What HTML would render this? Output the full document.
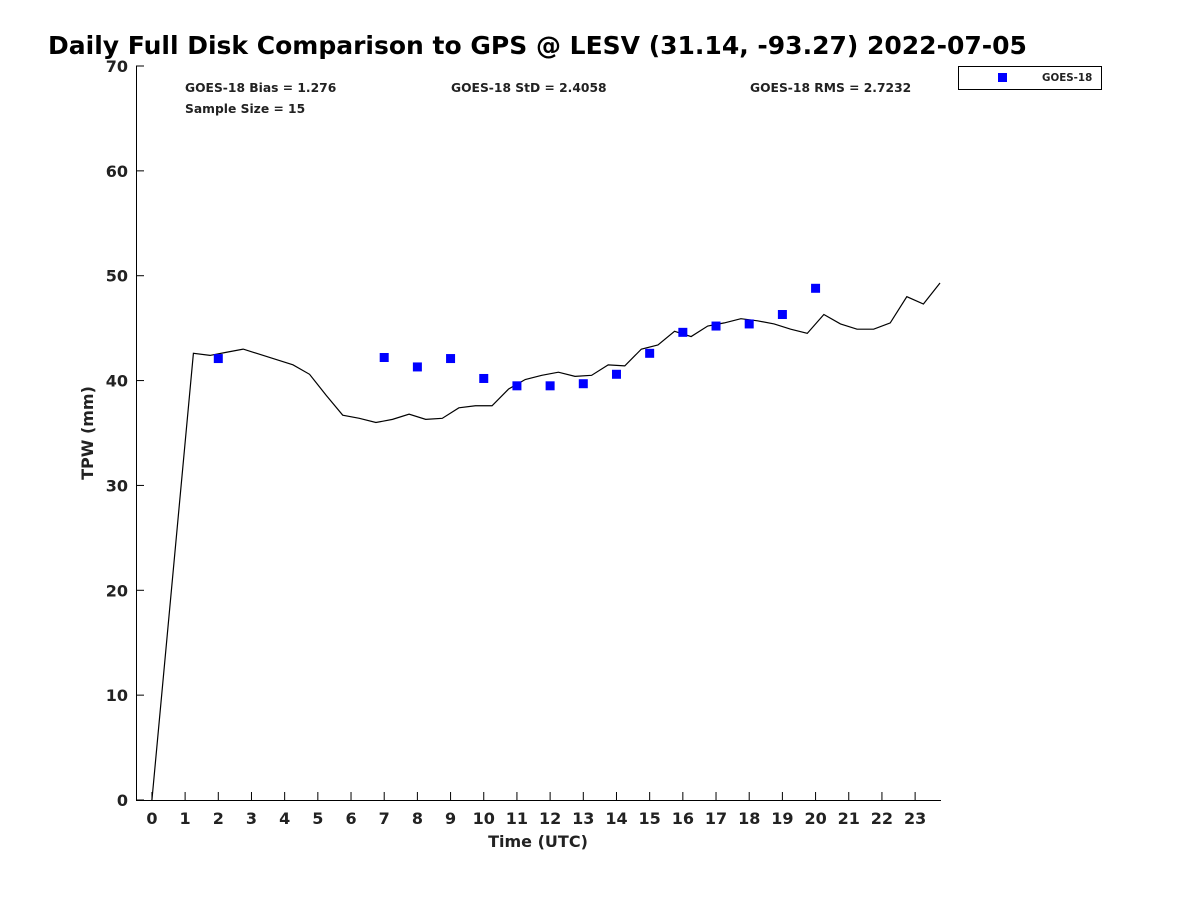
<!DOCTYPE html>
<html><head><meta charset="utf-8"><style>
body{margin:0;background:#fff;}
svg text{font-family:"DejaVu Sans","Liberation Sans",sans-serif;font-weight:bold;fill:#222;}
</style></head><body>
<svg width="1200" height="900" xmlns="http://www.w3.org/2000/svg">
<rect width="1200" height="900" fill="#fff"/>
<text x="48" y="54" font-size="25" style="fill:#000">Daily Full Disk Comparison to GPS @ LESV (31.14, -93.27) 2022-07-05</text>
<g id="axes"></g>
<g id="series"></g>
<text x="185" y="92" font-size="12.3">GOES-18 Bias = 1.276</text>
<text x="185" y="113" font-size="12.3">Sample Size = 15</text>
<text x="451" y="92" font-size="12.3">GOES-18 StD = 2.4058</text>
<text x="750" y="92" font-size="12.3">GOES-18 RMS = 2.7232</text>
<g>
<rect x="958.5" y="66.5" width="143" height="23" fill="#fff" stroke="#000" stroke-width="1"/>
<rect x="998" y="73" width="9" height="9" fill="#0000ff"/>
<text x="1042" y="81" font-size="10.3">GOES-18</text>
</g>
<text transform="translate(93,433) rotate(-90)" text-anchor="middle" font-size="16">TPW (mm)</text>
<text x="538" y="847" text-anchor="middle" font-size="16">Time (UTC)</text>
</svg>
<script>
const lineTimes=[0,1.25,1.75,2.25,2.75,3.25,3.75,4.25,4.75,5.25,5.75,6.25,6.75,7.25,7.75,8.25,8.75,9.25,9.75,10.25,10.75,11.25,11.75,12.25,12.75,13.25,13.75,14.25,14.75,15.25,15.75,16.25,16.75,17.25,17.75,18.25,18.75,19.25,19.75,20.25,20.75,21.25,21.75,22.25,22.75,23.25,23.75];
const gpsValues=[0,42.6,42.4,42.7,43.0,42.5,42.0,41.5,40.6,38.6,36.7,36.4,36.0,36.3,36.8,36.3,36.4,37.4,37.6,37.6,39.2,40.1,40.5,40.8,40.4,40.5,41.5,41.4,43.0,43.4,44.7,44.2,45.2,45.5,45.9,45.7,45.4,44.9,44.5,46.3,45.4,44.9,44.9,45.5,48.0,47.3,49.3];
const goesTimes=[2,7,8,9,10,11,12,13,14,15,16,17,18,19,20];
const goesValues=[42.1,42.2,41.3,42.1,40.2,39.5,39.5,39.7,40.6,42.6,44.6,45.2,45.4,46.3,48.8];
const xTicks=[0,1,2,3,4,5,6,7,8,9,10,11,12,13,14,15,16,17,18,19,20,21,22,23];
const yTicks=[0,10,20,30,40,50,60,70];
const NS="http://www.w3.org/2000/svg";
const L=136,R=941,T=66,B=800,xmin=-0.48,xmax=23.78,ymin=0,ymax=70;
const X=v=>L+(v-xmin)/(xmax-xmin)*(R-L);
const Y=v=>B-(v-ymin)/(ymax-ymin)*(B-T);
function mk(tag,attrs,parent){const e=document.createElementNS(NS,tag);for(const k in attrs)e.setAttribute(k,attrs[k]);parent.appendChild(e);return e;}
const ax=document.getElementById('axes'),se=document.getElementById('series');
const xl=mk('line',{x1:L,y1:B+0.5,x2:R,y2:B+0.5,stroke:'#000'},ax);


const yl=mk('line',{x1:L+0.5,y1:T,x2:L+0.5,y2:B,stroke:'#000'},ax);


xTicks.forEach(t=>{
 const x=X(t);
 mk('line',{x1:x,y1:B,x2:x,y2:B-8,stroke:'#000'},ax);
 const tx=mk('text',{x:x,y:B+24,'text-anchor':'middle','font-size':16},ax);
 tx.textContent=t;
 
 
});
yTicks.forEach(t=>{
 const y=Y(t);
 mk('line',{x1:L,y1:y,x2:L+8,y2:y,stroke:'#000'},ax);
 const tx=mk('text',{x:L-8,y:y+6,'text-anchor':'end','font-size':16},ax);
 tx.textContent=t;
 
 
});
const pl=mk('polyline',{points:lineTimes.map((t,i)=>X(t)+','+Y(gpsValues[i])).join(' '),fill:'none',stroke:'#000','stroke-width':1.2},se);


goesTimes.forEach((t,i)=>{
 const r=mk('rect',{x:X(t)-4.5,y:Y(goesValues[i])-4.5,width:9,height:9,fill:'#0000ff'},se);
 
 
});
</script>
</body></html>
